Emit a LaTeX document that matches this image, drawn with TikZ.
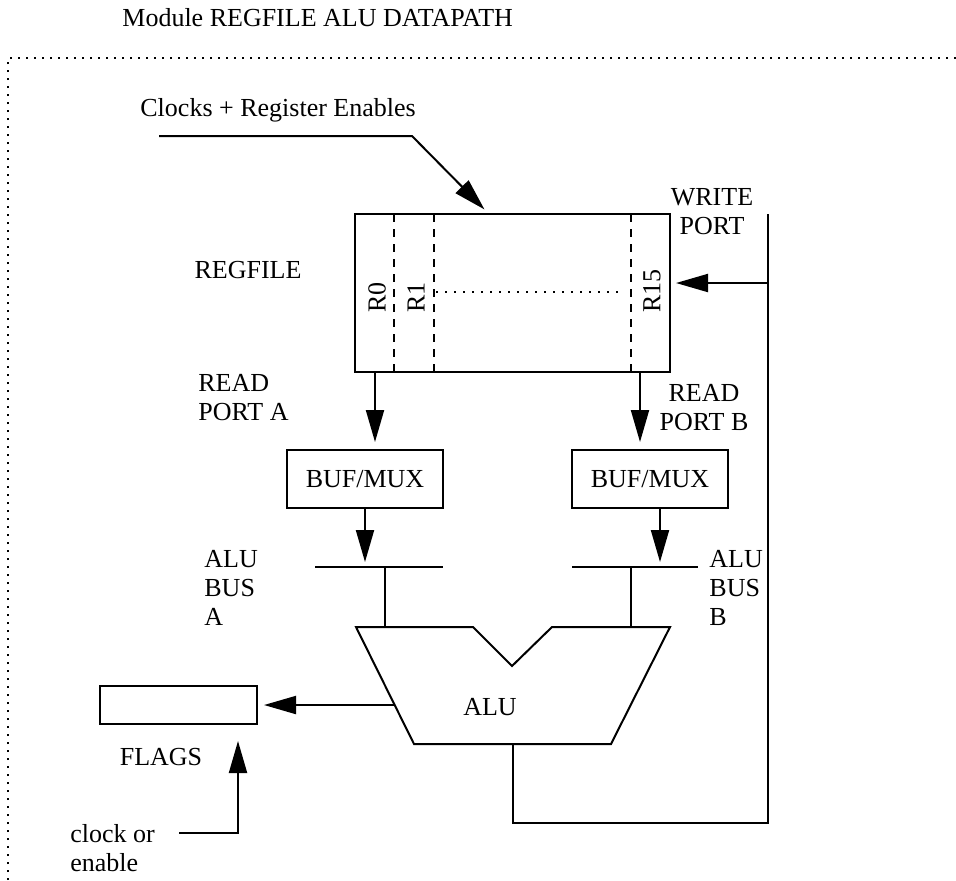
\documentclass[tikz,border=0pt]{standalone}
\usepackage{fontspec}
\setmainfont{Liberation Serif}
\usetikzlibrary{arrows.meta}

\begin{document}
\begin{tikzpicture}[x=0.5pt,y=-0.5pt,
  every node/.style={font=\fontsize{13}{14.5}\selectfont,inner sep=0pt},
  unit/.style={draw=black,line width=1pt},
  wire/.style={draw=black,line width=1pt},
  arr/.style={wire,-{Triangle[length=16pt,width=9pt]}},
  lbl/.style={anchor=base west},
  multi/.style={anchor=north west,align=left},
  reg/.style={rotate=90,anchor=west},
  every edge/.style={draw=black,line width=1pt}]
  \useasboundingbox (0,0) rectangle (956,880);
  % dotted module frame
  \draw[line width=1pt,dash pattern=on 1pt off 3pt] (8,880) -- (8,58) -- (956,58);
  \node[lbl] (title) at (122,26) {Module REGFILE ALU DATAPATH};
  \node[lbl] (clocks) at (140,116) {Clocks + Register Enables};
  % register file
  \node[unit,minimum width=157.5pt,minimum height=79pt] (regfile) at (512.5,293) {};
  \foreach \x in {394,434,631}
    \draw[line width=1pt,dash pattern=on 4pt off 3.5pt] (\x,214) -- (\x,372);
  \draw[line width=1pt,dash pattern=on 1pt off 3.5pt] (436,292) -- (625,292);
  \foreach \x/\r in {377/R0,416/R1,652/R15}
    \node[reg] (reg\r) at (\x,313) {\r};
  \node[anchor=base] (rflbl) at (248,278) {REGFILE};
  \node[multi] (rpa) at (198,374) {READ\\PORT A};
  \node[multi,anchor=north,align=center] (rpb) at (704,384) {READ\\PORT B};
  \node[multi,anchor=north,align=center] (wpl) at (712,188) {WRITE\\PORT};
  % buffers and flags
  \node[unit,minimum width=78pt,minimum height=29pt] (bufa) at (365,479) {BUF/MUX};
  \node[unit,minimum width=78pt,minimum height=29pt] (bufb) at (650,479) {BUF/MUX};
  \node[unit,minimum width=78.5pt,minimum height=19pt] (flags) at (178.5,705) {};
  \node[anchor=base] (flbl) at (161,765) {FLAGS};
  \node[multi] (clklbl) at (70,824) {clock or\\enable};
  % ALU buses
  \coordinate (ba) at (365,567);
  \coordinate (bb) at (660,567);
  \draw[wire] (315,567) -- (443,567) (385,567) -- (385,627);
  \draw[wire] (572,567) -- (698,567) (631,567) -- (631,627);
  \node[multi] (busa) at (204,550) {ALU\\BUS\\A};
  \node[multi] (busb) at (709,550) {ALU\\BUS\\B};
  % ALU
  \coordinate (a1) at (356,627); \coordinate (a2) at (473,627);
  \coordinate (a3) at (512,666); \coordinate (a4) at (552,627);
  \coordinate (a5) at (670,627); \coordinate (a6) at (611,744);
  \coordinate (a7) at (414,744);
  \draw[wire] (a1) -- (a2) -- (a3) -- (a4) -- (a5) -- (a6) -- (a7) -- cycle;
  \node[anchor=base] (alu) at (490,715) {ALU};
  % connectors
  \coordinate (ce) at (159,136);
  \coordinate (cb) at (412,136);
  \coordinate (ct) at (488,0);
  \draw[arr,shorten >=2.5pt] (ce) -- (cb) -- (regfile.north -| ct);
  \coordinate (ra) at (375,0);
  \coordinate (rb) at (640,0);
  \draw[arr,shorten >=3.5pt] (regfile.south -| ra) -- (bufa.north -| ra);
  \draw[arr,shorten >=3.5pt] (regfile.south -| rb) -- (bufb.north -| rb);
  \draw[arr,shorten >=2.5pt] (bufa.south) -- (ba);
  \draw[arr,shorten >=2.5pt] (bufb.south -| bb) -- (bb);
  \coordinate (aluo) at (513,744);
  \coordinate (wtop) at (768,214);
  \coordinate (wp) at (768,283);
  \draw[wire] (aluo) -- (513,823) -| (wtop);
  \draw[arr,shorten >=2.5pt] (wp) -- (regfile.east |- wp);
  \coordinate (alul) at (395,705);
  \draw[arr,shorten >=3pt] (alul) -- (flags.east);
  \coordinate (clk) at (179,833);
  \coordinate (cup) at (238,0);
  \draw[arr,shorten >=8pt] (clk) -| (flags.south -| cup);
\end{tikzpicture}
\end{document}
